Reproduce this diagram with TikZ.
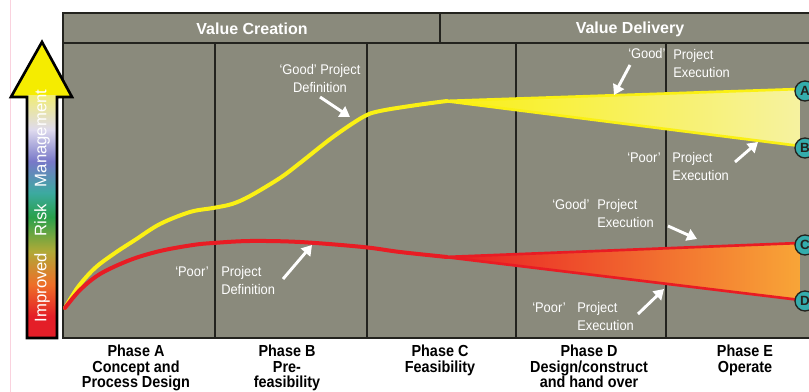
\documentclass[tikz,border=0pt]{standalone}
\usepackage{fontspec}
\setmainfont{Liberation Sans}
\newfontfamily\narrowsans[FakeStretch=0.92]{Liberation Sans}
\newfontfamily\phasefont[FakeStretch=0.9]{Liberation Sans Bold}
\usetikzlibrary{arrows.meta}
\definecolor{chartgray}{RGB}{138,138,124}
\definecolor{frameline}{RGB}{35,35,30}
\definecolor{curveyellow}{RGB}{250,240,20}
\definecolor{paleyellow}{RGB}{246,242,160}
\definecolor{curvered}{RGB}{232,28,36}
\definecolor{wedgeorange}{RGB}{248,165,55}
\definecolor{circteal}{RGB}{52,172,172}
\definecolor{headyellow}{RGB}{245,236,0}
\definecolor{pinkline}{RGB}{250,210,222}
\definecolor{rsA}{RGB}{228,30,40}
\definecolor{rsB}{RGB}{238,110,40}
\definecolor{rsC}{RGB}{175,170,55}
\definecolor{rsD}{RGB}{40,160,75}
\definecolor{rsE}{RGB}{60,170,160}
\definecolor{rsF}{RGB}{120,120,200}
\definecolor{rsG}{RGB}{222,218,238}
\definecolor{rsH}{RGB}{240,236,120}
\pgfdeclareverticalshading{riskshade}{100bp}{color(0bp)=(rsA); color(25bp)=(rsA); color(29.5bp)=(rsA); color(36bp)=(rsB); color(43bp)=(rsC); color(50bp)=(rsD); color(55bp)=(rsE); color(61.5bp)=(rsF); color(68bp)=(rsG); color(75bp)=(rsH); color(100bp)=(rsH)}
\tikzset{
  labtext/.style={text=white, inner sep=0pt, font=\narrowsans\fontsize{10.5}{13.5}\selectfont},
  phaselab/.style={text=black, inner sep=0pt, align=center, anchor=north, font=\phasefont\fontsize{12}{11.5}\selectfont},
  headlab/.style={text=white, inner sep=0pt, font=\bfseries\fontsize{12}{14}\selectfont},
  wharrow/.style={draw=white, line width=2.2pt, -{Triangle[length=7.5pt,width=9pt]}},
  phaseline/.style={draw=frameline, line width=2.2pt},
  endcirc/.style={circle, fill=circteal, draw=frameline, line width=1pt, minimum size=15pt, inner sep=0pt, text=frameline, font=\bfseries\fontsize{10}{12}\selectfont},
}
\begin{document}
\begin{tikzpicture}[x=0.75pt,y=-0.75pt]
\useasboundingbox (0,0) rectangle (809,392);
\clip (0,0) rectangle (809,392);
\fill[white] (0,0) rectangle (809,392);
\draw[pinkline, line width=0.6pt] (10,0) -- (10,392);
% chart frame
\draw[frameline, line width=2.2pt, fill=chartgray] (63,13) rectangle (820,338);
\draw[phaseline] (63,43) -- (820,43);
\draw[phaseline] (440,13) -- (440,43);
\foreach \xx in {215,367,516,666} { \draw[phaseline] (\xx,43) -- (\xx,338); }
\node[headlab] (vc) at (252,29) {Value Creation};
\node[headlab] (vd) at (630,29) {Value Delivery};
% left arrow
\fill[headyellow] (11,97) -- (42,42) -- (72,97) -- cycle;
\shade[shading=riskshade] (27,338) rectangle (57,96);
\draw[black, line width=2pt, line join=miter] (27,338) -- (27,97) -- (11,97) -- (42,42) -- (72,97) -- (57,97) -- (57,338) -- cycle;
\node[rotate=90, text=white, inner sep=0pt, font=\fontsize{12.5}{14}\selectfont] (risk) at (42,206) {Improved\quad Risk\quad Management};
% wedges
\shade[left color=curveyellow, right color=paleyellow] (445,101) -- (800,89) -- (800,146) -- cycle;
\draw[curveyellow, line width=2pt, line join=round] (800,89) -- (445,101) -- (800,146);
\shade[left color=curvered, right color=wedgeorange] (445,257) -- (800,243) -- (800,300) -- cycle;
\draw[curvered, line width=2pt, line join=round] (800,243) -- (445,257) -- (800,300);
% curves
\draw[curveyellow, line width=3pt, line cap=round] plot[smooth, tension=0.55] coordinates {(65,308) (78,287) (95,268) (115,253) (135,240) (160,224) (190,212) (213,208) (232,204) (250,196) (280,178) (300,163) (333,137) (363,117) (380,111) (417,105) (447,101)};
\draw[curvered, line width=3pt, line cap=round] plot[smooth, tension=0.55] coordinates {(65,308) (80,290) (100,274) (130,260) (160,251) (193,245) (213,243) (250,241) (300,242) (363,247) (400,252) (447,257)};
% end circles
\node[endcirc] (A) at (805,91) {A};
\node[endcirc] (B) at (805,148) {B};
\node[endcirc] (C) at (805,245) {C};
\node[endcirc] (D) at (805,301) {D};
% annotations
\node[labtext, align=center, anchor=north] (gooddef) at (320,64) {‘Good’ Project\\Definition};
\node[labtext, anchor=base west] (poorq1) at (175,276) {‘Poor’};
\node[labtext, align=left, anchor=north west] (poordef) at (221,266) {Project\\Definition};
\node[labtext, anchor=base west] (goodq1) at (628,59) {‘Good’};
\node[labtext, align=left, anchor=north west] (goodex1) at (673,49) {Project\\Execution};
\node[labtext, anchor=base west] (poorq2) at (627,162) {‘Poor’};
\node[labtext, align=left, anchor=north west] (poorex1) at (672,152) {Project\\Execution};
\node[labtext, anchor=base west] (goodq2) at (552,209) {‘Good’};
\node[labtext, align=left, anchor=north west] (goodex2) at (597,199) {Project\\Execution};
\node[labtext, anchor=base west] (poorq3) at (532,312) {‘Poor’};
\node[labtext, align=left, anchor=north west] (poorex2) at (577,302) {Project\\Execution};
% white arrows
\coordinate (gdS) at (320,97); \coordinate (gdE) at (350,117);
\coordinate (pdS) at (283,279); \coordinate (pdE) at (312,245);
\coordinate (g1S) at (630,65); \coordinate (g1E) at (614,95);
\coordinate (p1S) at (735,162); \coordinate (p1E) at (758,142);
\coordinate (g2S) at (668,226); \coordinate (g2E) at (697,239);
\coordinate (p2S) at (638,314); \coordinate (p2E) at (664,289);
\draw[wharrow] (gdS) -- (gdE);
\draw[wharrow] (pdS) -- (pdE);
\draw[wharrow] (g1S) -- (g1E);
\draw[wharrow] (p1S) -- (p1E);
\draw[wharrow] (g2S) -- (g2E);
\draw[wharrow] (p2S) -- (p2E);
% phase labels
\node[phaselab] (phA) at (136,345) {Phase A\\Concept and\\Process Design};
\node[phaselab] (phB) at (287,345) {Phase B\\Pre-\\feasibility};
\node[phaselab] (phC) at (440,345) {Phase C\\Feasibility};
\node[phaselab] (phD) at (589,345) {Phase D\\Design/construct\\and hand over};
\node[phaselab] (phE) at (745,345) {Phase E\\Operate};
\end{tikzpicture}
\end{document}
